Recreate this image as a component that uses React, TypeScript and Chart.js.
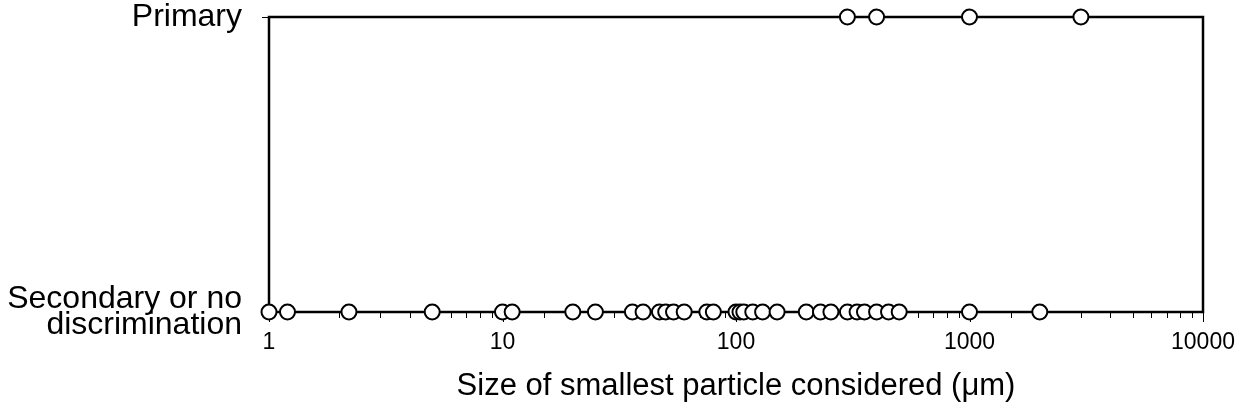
import React, { useEffect, useRef } from 'react';
import { Chart, registerables } from 'chart.js';

Chart.register(...registerables);

// Category labels (index 0 = bottom row, index 1 = top row)
const yLabels: (string | string[])[] = [['Secondary or no', 'discrimination'], 'Primary'];

// Size of smallest particle considered (µm) per study
const primarySizes = [300, 400, 1000, 3000];
const secondarySizes = [
  1, 1.2, 2.2, 5, 10, 11, 20, 25, 36, 40, 47, 50, 54, 60, 75, 80, 100, 104, 108, 118,
  130, 150, 200, 230, 255, 300, 330, 355, 400, 450, 500, 1000, 2000,
];
const xTickLabels = [1, 10, 100, 1000, 10000];
const xTitle = 'Size of smallest particle considered (\u03bcm)';

const FONT = "'Liberation Sans', Arial, sans-serif";

const framePlugin = {
  id: 'frameAndTicks',
  beforeDatasetsDraw(chart: any) {
    const { ctx, chartArea } = chart;
    const xs = chart.scales.x;
    ctx.save();
    ctx.strokeStyle = '#000';
    ctx.lineWidth = 1;
    // x ticks (major long, minor short)
    xs.ticks.forEach((t: any) => {
      const px = Math.round(xs.getPixelForValue(t.value)) + 0.5;
      const lg = Math.log10(t.value);
      const major = Math.abs(lg - Math.round(lg)) < 1e-9;
      ctx.beginPath();
      ctx.moveTo(px, chartArea.bottom);
      ctx.lineTo(px, chartArea.bottom + (major ? 10 : 6));
      ctx.stroke();
    });
    // frame
    ctx.lineWidth = 2.5;
    ctx.strokeRect(chartArea.left, chartArea.top, chartArea.right - chartArea.left, chartArea.bottom - chartArea.top);
    ctx.restore();
  },
};

export default function App() {
  const ref = useRef<HTMLCanvasElement | null>(null);

  useEffect(() => {
    document.body.style.margin = '0';
    const canvas = ref.current;
    if (!canvas) return;
    const pointStyle = {
      showLine: false,
      pointRadius: 7.5,
      pointHoverRadius: 7.5,
      pointBorderWidth: 2,
      pointBackgroundColor: '#fff',
      pointBorderColor: '#000',
      clip: false as any,
    };
    const chart = new Chart(canvas, {
      type: 'scatter',
      data: {
        datasets: [
          { label: 'Primary', data: primarySizes.map((v) => ({ x: v, y: 1 })), ...pointStyle },
          { label: 'Secondary or no discrimination', data: secondarySizes.map((v) => ({ x: v, y: 0 })), ...pointStyle },
        ],
      },
      options: {
        animation: false,
        responsive: true,
        maintainAspectRatio: false,
        layout: { padding: { top: 17, right: 45, left: 0, bottom: 0 } },
        plugins: { legend: { display: false }, tooltip: { enabled: false } },
        scales: {
          x: {
            type: 'logarithmic',
            min: 1,
            max: 10000,
            afterFit: (s: any) => { s.height = 106; s.paddingLeft = 0; s.paddingRight = 0; },
            border: { display: false },
            grid: { display: false, drawTicks: false },
            ticks: {
              autoSkip: false,
              maxRotation: 0,
              padding: 17,
              color: '#000',
              font: { family: FONT, size: 23 },
              callback: (v: any) => (xTickLabels.includes(Number(v)) ? String(v) : ''),
            },
            title: {
              display: true,
              text: xTitle,
              color: '#000',
              font: { family: FONT, size: 31 },
              padding: { top: 0, bottom: 13 },
            },
          },
          y: {
            type: 'linear',
            min: 0,
            max: 1,
            afterFit: (s: any) => { s.width = 269; s.paddingTop = 0; s.paddingBottom = 0; },
            afterBuildTicks: (s: any) => { s.ticks = yLabels.map((_, i) => ({ value: i })); },
            border: { display: false },
            grid: { drawOnChartArea: false, tickLength: 7, color: '#000', lineWidth: 1 },
            ticks: {
              padding: 20,
              color: '#000',
              font: { family: FONT, size: 32, lineHeight: 0.82 },
              callback: (v: any) => yLabels[Number(v)] as any,
            },
          },
        },
      },
      plugins: [framePlugin],
    });
    return () => chart.destroy();
  }, []);

  return (
    <div style={{ position: 'relative', width: 1248, height: 418 }}>
      <canvas ref={ref} />
    </div>
  );
}
